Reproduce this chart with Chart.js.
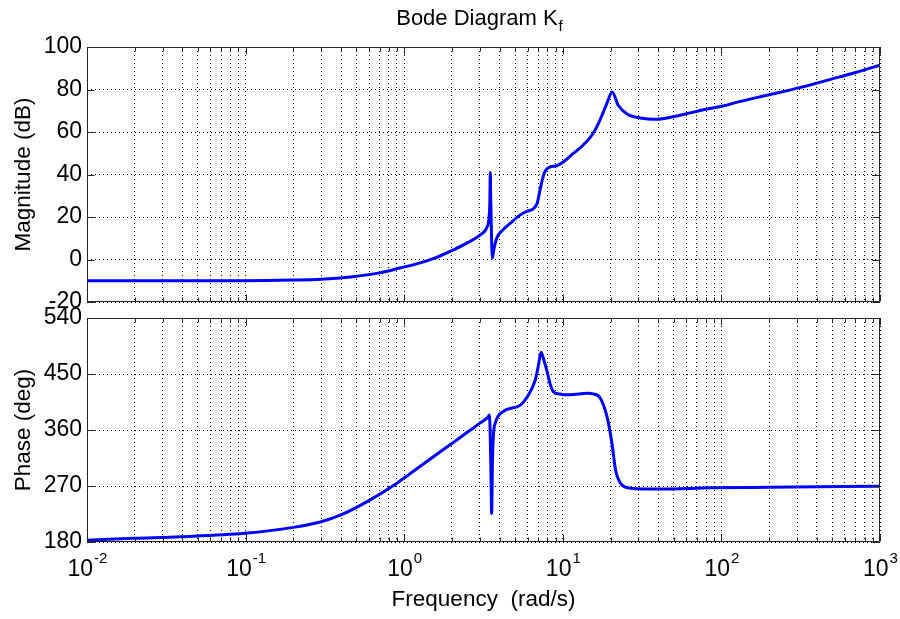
<!DOCTYPE html>
<html>
<head>
<meta charset="utf-8">
<script src="https://cdn.jsdelivr.net/npm/chart.js@4/dist/chart.umd.min.js"></script>
<style>
    html, body { margin: 0; padding: 0; background: #fff; }
    #wrap { position: relative; width: 900px; height: 619px; }
    #wrap canvas { position: absolute; left: 0; top: 0; }
</style>
</head>
<body>
<div id="wrap">
    <canvas id="mag" width="900" height="619"></canvas>
    <canvas id="phase" width="900" height="619"></canvas>
</div>
<script>
// frequency axis: decades 10^-2 .. 10^3, minor lines at 2..9
const decadeExps = [-2, -1, 0, 1, 2, 3];
const minorSteps = [1, 2, 3, 4, 5, 6, 7, 8, 9];

// magnitude response (rad/s, dB)
const magFreq = [0.01, 0.05, 0.1, 0.2, 0.3, 0.46, 0.7, 0.94, 1.26, 1.6, 2.04, 2.5, 3.0, 3.33,
    3.42, 3.47, 3.49, 3.51, 3.55, 3.6, 3.66, 3.83, 4.2, 4.66, 5.39, 6.0, 6.5, 6.9, 7.2, 7.5,
    7.8, 8.3, 9.2, 10.3, 11.6, 13.2, 14.9, 16.0, 17.2, 19.0, 20.5, 22.3, 25.4, 30.8, 39.4,
    49.8, 63.5, 81, 102, 130, 200, 316, 500, 700, 1000];
const magDb = [-10, -10, -10, -9.7, -9.3, -8.2, -6.3, -4, -1.6, 1, 4.5, 7.8, 11.5, 15.3,
    19, 28, 41, 30, 12, 0.7, 4, 10, 14, 17, 21, 22.8, 23.8, 26.6, 33, 38.8,
    42, 43.5, 44.2, 46.5, 49.8, 53.3, 57.5, 61, 65.8, 73.6, 78.8, 72.7, 68.5, 66.6, 66,
    67.2, 69, 70.8, 72.2, 74.3, 77.5, 81, 85, 88, 91.5];

// phase response (rad/s, deg)
const phaseFreq = [0.01, 0.0197, 0.039, 0.099, 0.2, 0.3, 0.395, 0.58, 0.9, 1.0, 1.417, 2.04,
    2.6, 3.0, 3.38, 3.44, 3.48, 3.52, 3.56, 3.6, 3.66, 3.75, 4.2, 5.4, 5.96, 6.7, 7.0, 7.3,
    7.6, 7.93, 8.3, 8.7, 9.5, 11.1, 14.3, 15.5, 17.2, 19.0, 20.4, 21.5, 23.1, 26.6, 41, 85,
    200, 1000];
const phaseDeg = [183, 186, 188.5, 194, 203.5, 212.5, 223, 244.5, 274.6, 283, 311, 340,
    359.5, 371, 381, 384, 360, 300, 226, 310, 355, 371, 389.5, 400, 413, 440, 462, 485,
    472, 456, 435, 422, 418, 416.5, 419, 418, 411.5, 381.5, 339, 296, 274.6, 266.5, 265, 267,
    268, 269.5];

const magTicks = [-20, 0, 20, 40, 60, 80, 100];
const phaseTicks = [180, 270, 360, 450, 540];

const FONT = '"Liberation Sans", Arial, Helvetica, sans-serif';
const LINE_BLUE = '#0000ff';

const freqGrid = [];
decadeExps.forEach((e, i) => {
    minorSteps.forEach((m) => {
        if (i < decadeExps.length - 1 || m === 1) {
            freqGrid.push(m * Math.pow(10, e));
        }
    });
});

function isDecade(v) {
    const l = Math.log10(v);
    return Math.abs(l - Math.round(l)) < 1e-9;
}

function toPoints(xs, ys) {
    return xs.map((x, i) => ({ x, y: ys[i] }));
}

// box, inward tick marks (MATLAB style)
const framePlugin = {
    id: 'matlabFrame',
    afterDraw(chart) {
        const { ctx, chartArea: a, scales } = chart;
        const L = Math.round(a.left) + 0.5;
        const R = Math.round(a.right) - 0.5;
        const T = Math.round(a.top) + 0.5;
        const B = Math.round(a.bottom) - 0.5;
        ctx.save();
        ctx.strokeStyle = '#262626';
        ctx.lineWidth = 1;
        ctx.setLineDash([]);
        ctx.beginPath();
        scales.x.ticks.forEach((t) => {
            const px = Math.round(scales.x.getPixelForValue(t.value)) + 0.5;
            const len = isDecade(t.value) ? 7 : 4;
            ctx.moveTo(px, B); ctx.lineTo(px, B - len);
            ctx.moveTo(px, T); ctx.lineTo(px, T + len);
        });
        scales.y.ticks.forEach((t) => {
            const py = Math.round(scales.y.getPixelForValue(t.value)) + 0.5;
            ctx.moveTo(L, py); ctx.lineTo(L + 7, py);
            ctx.moveTo(R, py); ctx.lineTo(R - 7, py);
        });
        ctx.rect(L, T, R - L, B - T);
        ctx.stroke();
        ctx.restore();
    },
};

const titlePlugin = {
    id: 'bodeTitle',
    afterDraw(chart) {
        const { ctx } = chart;
        ctx.save();
        ctx.fillStyle = '#000';
        ctx.textBaseline = 'alphabetic';
        ctx.font = `22px ${FONT}`;
        const main = 'Bode Diagram K';
        const w1 = ctx.measureText(main).width;
        ctx.font = `15px ${FONT}`;
        const w2 = ctx.measureText('f').width;
        const x0 = 479 - (w1 + w2) / 2;
        ctx.font = `22px ${FONT}`;
        ctx.fillText(main, x0, 25);
        ctx.font = `15px ${FONT}`;
        ctx.fillText('f', x0 + w1 + 1, 31);
        ctx.restore();
    },
};

const freqLabelPlugin = {
    id: 'freqLabels',
    afterDraw(chart) {
        const { ctx, chartArea: a, scales } = chart;
        ctx.save();
        ctx.fillStyle = '#000';
        ctx.textBaseline = 'alphabetic';
        decadeExps.forEach((e) => {
            const px = scales.x.getPixelForValue(Math.pow(10, e));
            ctx.font = `23px ${FONT}`;
            const wb = ctx.measureText('10').width;
            ctx.font = `15px ${FONT}`;
            const we = ctx.measureText(String(e)).width;
            const x0 = px - (wb + we) / 2;
            ctx.font = `23px ${FONT}`;
            ctx.fillText('10', x0, 576);
            ctx.font = `15px ${FONT}`;
            ctx.fillText(String(e), x0 + wb + 1, 563);
        });
        ctx.font = `22.5px ${FONT}`;
        ctx.textAlign = 'center';
        ctx.fillText('Frequency  (rad/s)', (a.left + a.right) / 2, 606);
        ctx.restore();
    },
};

function bodePanel(id, { points, yTicks, top, bottom, yTitle, extra }) {
    return new Chart(document.getElementById(id), {
        type: 'line',
        data: {
            datasets: [{
                data: points,
                borderColor: LINE_BLUE,
                borderWidth: 3,
                pointRadius: 0,
                fill: false,
                cubicInterpolationMode: 'monotone',
            }],
        },
        options: {
            responsive: false,
            animation: false,
            events: [],
            layout: { padding: { left: 0, right: 20, top, bottom } },
            plugins: {
                legend: { display: false },
                tooltip: { enabled: false },
            },
            scales: {
                x: {
                    type: 'logarithmic',
                    min: 0.01,
                    max: 1000,
                    afterBuildTicks: (s) => {
                        s.ticks = freqGrid.map((v) => ({ value: v }));
                    },
                    afterFit: (s) => { s.height = 0; },
                    ticks: { display: false },
                    grid: { color: '#000', lineWidth: 1, drawTicks: false },
                    border: { display: false, dash: [1, 3] },
                },
                y: {
                    min: yTicks[0],
                    max: yTicks[yTicks.length - 1],
                    afterBuildTicks: (s) => {
                        s.ticks = yTicks.map((v) => ({ value: v }));
                    },
                    afterFit: (s) => { s.width = 87; },
                    ticks: {
                        color: '#000',
                        padding: 5,
                        font: { family: FONT, size: 23 },
                    },
                    grid: { color: '#000', lineWidth: 1, drawTicks: false },
                    border: { display: false, dash: [1, 3] },
                    title: {
                        display: true,
                        text: yTitle,
                        color: '#000',
                        padding: { top: 10, bottom: 0 },
                        font: { family: FONT, size: 22.5 },
                    },
                },
            },
        },
        plugins: [framePlugin, extra],
    });
}

bodePanel('mag', {
    points: toPoints(magFreq, magDb),
    yTicks: magTicks,
    top: 47,
    bottom: 317,
    yTitle: 'Magnitude (dB)',
    extra: titlePlugin,
});

bodePanel('phase', {
    points: toPoints(phaseFreq, phaseDeg),
    yTicks: phaseTicks,
    top: 318,
    bottom: 77,
    yTitle: 'Phase (deg)',
    extra: freqLabelPlugin,
});
</script>
</body>
</html>
